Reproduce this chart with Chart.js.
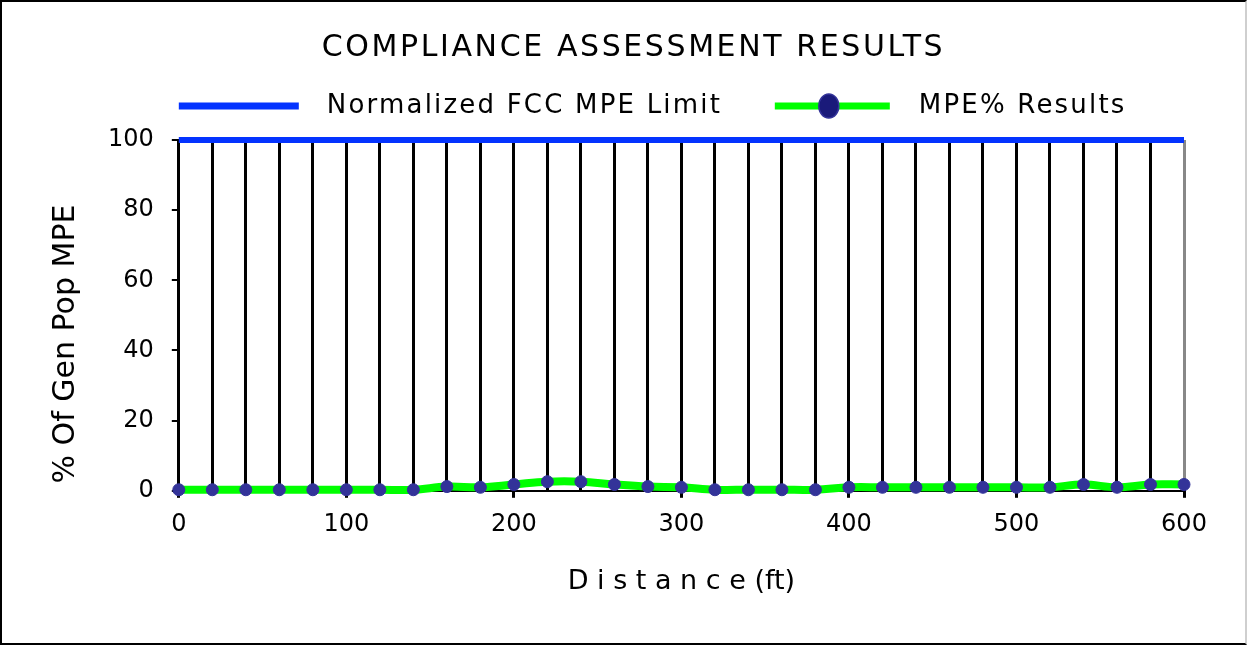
<!DOCTYPE html>
<html>
<head>
<meta charset="utf-8">
<script src="https://cdn.jsdelivr.net/npm/chart.js@4.4.0/dist/chart.umd.min.js"></script>
<style>
  html, body { margin: 0; padding: 0; background: #fff; }
  #wrap {
    position: absolute; left: 0; top: 0;
    width: 1247px; height: 645px;
    box-sizing: border-box;
    border: 2px solid #000;
    border-right-color: #cfcfcf;
  }
  #chart { display: block; }
</style>
</head>
<body>
<div id="wrap"><canvas id="chart" width="1243" height="641"></canvas></div>
<script>
// jarak (ft)
const DISTANCE = [0, 20, 40, 60, 80, 100, 120, 140, 160, 180, 200, 220, 240, 260, 280, 300,
  320, 340, 360, 380, 400, 420, 440, 460, 480, 500, 520, 540, 560, 580, 600];

// hasil MPE% tiap jarak
const MPE_RESULTS = [0.3, 0.3, 0.3, 0.3, 0.3, 0.3, 0.3, 0.3, 1.2, 1.0, 1.8, 2.6, 2.6, 1.8, 1.2, 1.0,
  0.3, 0.3, 0.3, 0.3, 1.0, 1.0, 1.0, 1.0, 1.0, 1.0, 1.0, 1.8, 1.0, 1.8, 1.8];

// batas FCC (dinormalisasi)
const LIMIT_X = [0, 600];
const LIMIT_Y = [100, 100];

const Y_TICKS = [0, 20, 40, 60, 80, 100];
const X_LABEL_STEP = 100;

const TITLE = "COMPLIANCE ASSESSMENT RESULTS";
const LEGEND_LABELS = ["Normalized FCC MPE Limit", "MPE% Results"];

const FONT = "DejaVu Sans";
const BLUE = "#0433ff";
const GREEN = "#00ff00";
const DOT = "#333399";

const limitData = LIMIT_X.map((x, i) => ({ x: x, y: LIMIT_Y[i] }));
const mpeData = DISTANCE.map((x, i) => ({ x: x, y: MPE_RESULTS[i] }));

// judul + legend digambar manual
const headerPlugin = {
  id: "header",
  afterDraw(chart) {
    const ctx = chart.ctx;
    const a = chart.chartArea;
    ctx.save();
    ctx.fillStyle = "#000";
    ctx.textBaseline = "middle";

    ctx.font = "30px " + FONT;
    ctx.letterSpacing = "2.6px";
    ctx.textAlign = "center";
    ctx.fillText(TITLE, chart.width / 2 + 10, 46);

    ctx.textAlign = "left";
    ctx.font = "26px " + FONT;
    ctx.letterSpacing = "2.2px";
    const y = a.top - 34;

    ctx.strokeStyle = BLUE;
    ctx.lineWidth = 7;
    ctx.beginPath();
    ctx.moveTo(a.left, y);
    ctx.lineTo(a.left + 120, y);
    ctx.stroke();
    ctx.fillText(LEGEND_LABELS[0], a.left + 148, y);

    const gx = a.left + 596;
    ctx.strokeStyle = GREEN;
    ctx.beginPath();
    ctx.moveTo(gx, y);
    ctx.lineTo(gx + 115, y);
    ctx.stroke();
    ctx.fillStyle = "#1a1a7a";
    ctx.strokeStyle = DOT;
    ctx.lineWidth = 1.5;
    ctx.beginPath();
    ctx.ellipse(gx + 54, y, 10, 12, 0, 0, Math.PI * 2);
    ctx.fill();
    ctx.stroke();
    ctx.fillStyle = "#000";
    ctx.fillText(LEGEND_LABELS[1], gx + 144, y);
    ctx.restore();
  }
};

new Chart("chart", {
  type: "line",
  data: {
    datasets: [
      {
        label: LEGEND_LABELS[0],
        data: limitData,
        borderColor: BLUE,
        borderWidth: 6,
        pointRadius: 0,
        fill: false,
        clip: false,
        order: 1
      },
      {
        label: LEGEND_LABELS[1],
        data: mpeData,
        borderColor: GREEN,
        borderWidth: 8,
        tension: 0.4,
        pointRadius: 6,
        pointBackgroundColor: DOT,
        pointBorderColor: DOT,
        pointBorderWidth: 1,
        fill: false,
        clip: false,
        order: 0
      }
    ]
  },
  options: {
    responsive: false,
    animation: false,
    events: [],
    layout: {
      padding: { left: 46, right: 61, top: 138, bottom: 45 }
    },
    plugins: {
      legend: { display: false },
      tooltip: { enabled: false },
      title: { display: false }
    },
    scales: {
      x: {
        type: "linear",
        min: 0,
        max: 600,
        grid: {
          display: true,
          drawOnChartArea: true,
          drawTicks: true,
          tickLength: 7,
          lineWidth: 3,
          color: (c) => (c.tick && c.tick.value === 600 ? "#888" : "#000"),
          tickColor: (c) => (c.tick && c.tick.value % X_LABEL_STEP === 0 ? "#000" : "rgba(0,0,0,0)")
        },
        border: { display: true, color: "#000", width: 2 },
        ticks: {
          stepSize: 20,
          autoSkip: false,
          maxRotation: 0,
          padding: 13,
          color: "#000",
          font: { family: FONT, size: 24 },
          callback: (v) => (v % X_LABEL_STEP === 0 ? v : "")
        },
        title: {
          display: true,
          text: "D i s t a n c e (ft)",
          color: "#000",
          font: { family: FONT, size: 27 },
          padding: { top: 13, bottom: 0 }
        }
      },
      y: {
        min: 0,
        max: 100,
        afterBuildTicks: (s) => { s.ticks = Y_TICKS.map((v) => ({ value: v })); },
        grid: {
          display: true,
          drawOnChartArea: false,
          drawTicks: true,
          tickLength: 7,
          lineWidth: 2,
          tickColor: "#000"
        },
        border: { display: true, color: "#000", width: 2 },
        ticks: {
          padding: 18,
          color: "#000",
          font: { family: FONT, size: 24 }
        },
        title: {
          display: true,
          text: "% Of Gen Pop MPE      ",
          color: "#000",
          font: { family: FONT, size: 30 },
          padding: { top: 0, bottom: 6 }
        }
      }
    }
  },
  plugins: [headerPlugin]
});
</script>
</body>
</html>
